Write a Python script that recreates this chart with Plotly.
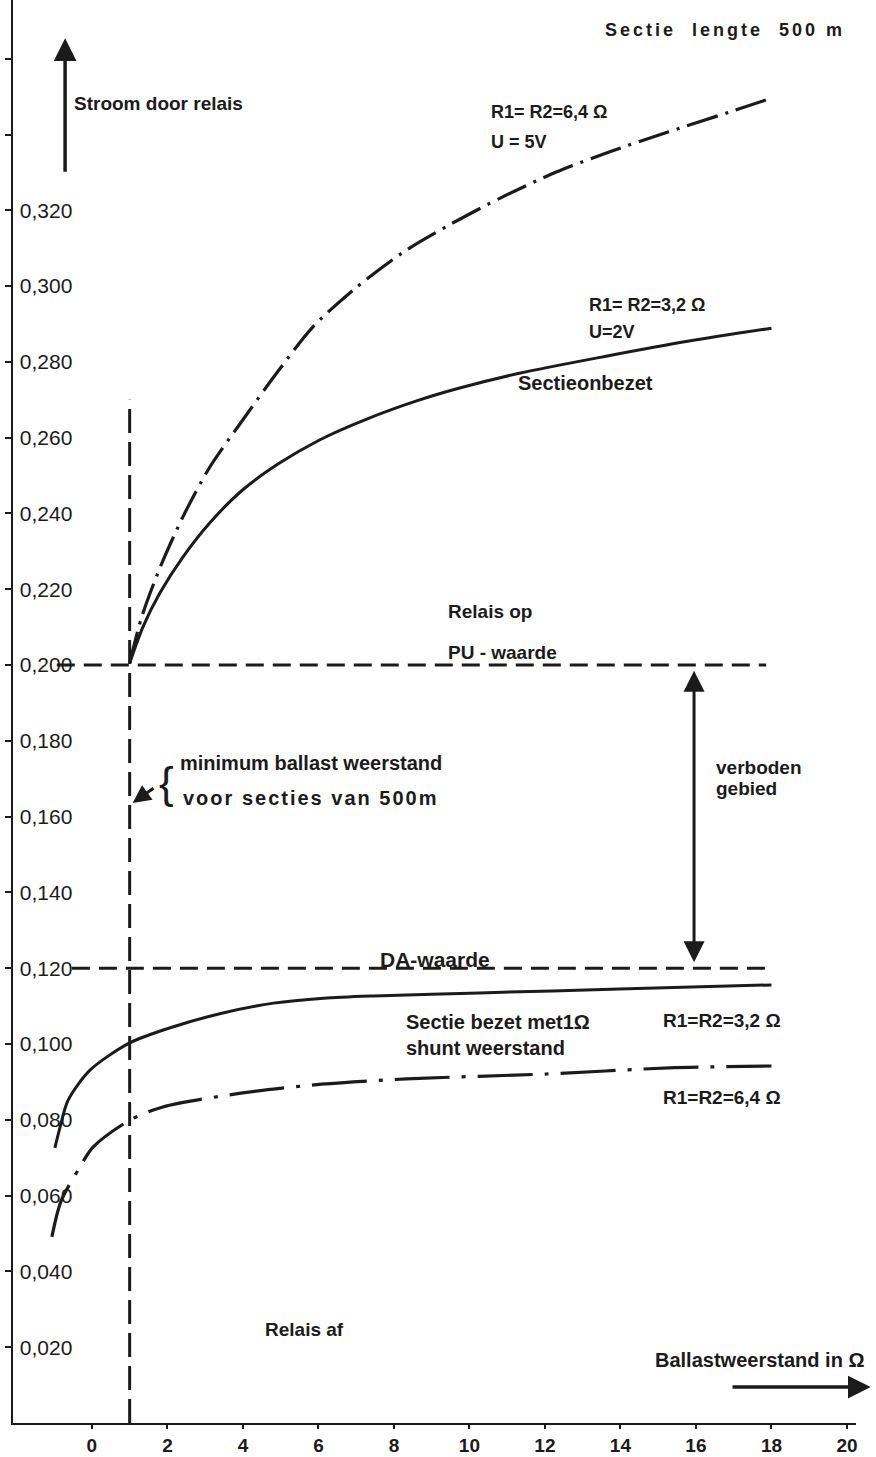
import plotly.graph_objects as go

# ---------------- data ----------------
x_ticks = [0, 2, 4, 6, 8, 10, 12, 14, 16, 18, 20]
x_tick_labels = ["0", "2", "4", "6", "8", "10", "12", "14", "16", "18", "20"]
y_ticks = [0.02, 0.04, 0.06, 0.08, 0.10, 0.12, 0.14, 0.16, 0.18, 0.20,
           0.22, 0.24, 0.26, 0.28, 0.30, 0.32, 0.34, 0.36]
y_tick_labels = ["0,020", "0,040", "0,060", "0,080", "0,100", "0,120", "0,140",
                 "0,160", "0,180", "0,200", "0,220", "0,240", "0,260", "0,280",
                 "0,300", "0,320", "", ""]

# Sectie onbezet, R1=R2=6,4 ohm, U=5V (dash-dot)
free_64_x = [1.0, 1.32, 1.80, 2.41, 3.12, 3.99, 4.89, 5.85, 7.01, 8.33, 9.55,
             10.87, 12.30, 13.70, 15.24, 16.88, 18.0]
free_64_y = [0.2005, 0.2127, 0.2256, 0.2391, 0.2522, 0.2646, 0.2770, 0.2892,
             0.2997, 0.3095, 0.3166, 0.3235, 0.3301, 0.3354, 0.3406, 0.3459, 0.3496]

# Sectie onbezet, R1=R2=3,2 ohm, U=2V (solid)
free_32_x = [1.0, 1.35, 1.80, 2.41, 3.12, 3.99, 4.97, 6.03, 7.28, 8.60, 9.74,
             11.32, 13.62, 15.82, 18.0]
free_32_y = [0.2005, 0.2100, 0.2190, 0.2285, 0.2375, 0.2462, 0.2533, 0.2594,
             0.2649, 0.2697, 0.2731, 0.2770, 0.2815, 0.2855, 0.2889]

# Sectie bezet met 1 ohm shunt, R1=R2=3,2 ohm (solid)
shunt_32_x = [-0.98, -0.85, -0.63, -0.05, 1.0, 2.14, 3.47, 4.81, 6.14, 7.46,
              10.26, 13.97, 18.0]
shunt_32_y = [0.0726, 0.0778, 0.0852, 0.0931, 0.1003, 0.1045, 0.1082, 0.1108,
              0.1121, 0.1127, 0.1135, 0.1145, 0.1156]

# Sectie bezet met 1 ohm shunt, R1=R2=6,4 ohm (dash-dot)
shunt_64_x = [-1.06, -0.82, -0.32, 0.03, 1.0, 1.88, 3.99, 6.08, 8.33, 12.04,
              15.29, 18.0]
shunt_64_y = [0.0491, 0.0585, 0.0675, 0.0728, 0.0799, 0.0834, 0.0871, 0.0894,
              0.0908, 0.0921, 0.0937, 0.0942]

pu_value = 0.200          # PU-waarde
da_value = 0.120          # DA-waarde
pu_x = [-0.93, 17.86]
da_x = [-0.53, 18.0]
min_ballast = 1.0         # minimum ballast weerstand
min_ballast_y = [0.0, 0.27]

ink = "#1b1b1b"
font_family = "Liberation Sans, Arial, sans-serif"

fig = go.Figure()

# curves
fig.add_trace(go.Scatter(x=free_64_x, y=free_64_y, mode="lines",
                         line=dict(color=ink, width=3.2, dash="32px,8px,3px,8px",
                                   shape="spline", smoothing=0.8)))
fig.add_trace(go.Scatter(x=free_32_x, y=free_32_y, mode="lines",
                         line=dict(color=ink, width=3, shape="spline", smoothing=0.8)))
fig.add_trace(go.Scatter(x=shunt_32_x, y=shunt_32_y, mode="lines",
                         line=dict(color=ink, width=3, shape="spline", smoothing=0.8)))
fig.add_trace(go.Scatter(x=shunt_64_x, y=shunt_64_y, mode="lines",
                         line=dict(color=ink, width=3.2, dash="55px,12px,4px,12px",
                                   shape="spline", smoothing=0.8)))

# reference lines
fig.add_trace(go.Scatter(x=pu_x, y=[pu_value, pu_value], mode="lines",
                         line=dict(color=ink, width=3, dash="18px,9px")))
fig.add_trace(go.Scatter(x=da_x, y=[da_value, da_value], mode="lines",
                         line=dict(color=ink, width=3, dash="18px,9px")))
fig.add_trace(go.Scatter(x=[min_ballast, min_ballast], y=min_ballast_y, mode="lines",
                         line=dict(color=ink, width=3, dash="24px,9px")))

annotations = []


def txt(text, x, y, size=19, anchor="left", bold=True):
    annotations.append(dict(
        text=text, x=x, y=y, xref="x", yref="y", showarrow=False,
        xanchor=anchor, yanchor="middle",
        font=dict(family=font_family, size=size, color=ink,
                  weight="bold" if bold else "normal")))


def arrow(x, y, ax, ay, width=3.5, size=1.2, both=False):
    d = dict(text="", x=x, y=y, ax=ax, ay=ay, xref="x", yref="y",
             axref="x", ayref="y", showarrow=True, arrowhead=2,
             arrowsize=size, arrowwidth=width, arrowcolor=ink)
    if both:
        d.update(arrowside="end+start", startarrowhead=2, startarrowsize=size)
    annotations.append(d)


txt('<span style="letter-spacing:3px">Sectie  lengte  500 m</span>', 13.55, 0.3675, size=18)
txt("Stroom door relais", -0.53, 0.3483, size=19)
txt("R1= R2=6,4 Ω", 10.53, 0.3459, size=18)
txt("U = 5V", 10.53, 0.3380, size=18)
txt("R1= R2=3,2 Ω", 13.12, 0.2950, size=18)
txt("U=2V", 13.12, 0.2879, size=18)
txt("Sectieonbezet", 11.24, 0.2744, size=20)
txt("Relais op", 9.37, 0.2142, size=19)
txt("PU - waarde", 9.37, 0.2034, size=19)
txt("{", 1.98, 0.1689, size=44, anchor="center", bold=False)
txt("minimum ballast weerstand", 2.28, 0.1741, size=20)
txt('<span style="letter-spacing:2px">voor secties van 500m</span>', 2.35, 0.1649, size=20)
txt("verboden", 16.48, 0.1731, size=19)
txt("gebied", 16.48, 0.1675, size=19)
txt("DA-waarde", 7.58, 0.1224, size=21)
txt("Sectie bezet met1Ω", 8.28, 0.1058, size=20)
txt("shunt weerstand", 8.28, 0.0989, size=20)
txt("R1=R2=3,2 Ω", 15.08, 0.1061, size=19)
txt("R1=R2=6,4 Ω", 15.08, 0.0858, size=19)
txt("Relais af", 4.52, 0.0248, size=19)
txt("Ballastweerstand in Ω", 14.87, 0.0166, size=20)

arrow(-0.71, 0.3654, -0.71, 0.3298, width=3.5, size=1.3)     # y-axis arrow
arrow(20.63, 0.0095, 16.93, 0.0095, width=3.5, size=1.3)     # x-axis arrow
arrow(15.95, 0.1985, 15.95, 0.1212, width=3, size=1.4, both=True)  # verboden gebied
arrow(1.08, 0.1636, 1.67, 0.1678, width=3, size=1.2)          # minimum ballast pointer

fig.update_layout(
    width=876, height=1457,
    margin=dict(l=13, r=20, t=0, b=34, autoexpand=False),
    paper_bgcolor="white", plot_bgcolor="white",
    showlegend=False,
    font=dict(family=font_family, color=ink),
    annotations=annotations,
)
fig.update_xaxes(
    range=[-2.09, 20.24], showgrid=False, zeroline=False,
    showline=True, linewidth=2, linecolor=ink,
    tickmode="array", tickvals=x_ticks, ticktext=x_tick_labels,
    ticks="outside", ticklen=4, tickwidth=2, tickcolor=ink,
    tickfont=dict(family=font_family, size=19, color=ink, weight="bold"),
    automargin=False,
)
fig.update_yaxes(
    range=[0, 0.3755], showgrid=False, zeroline=False,
    showline=True, linewidth=2, linecolor=ink,
    tickmode="array", tickvals=y_ticks, ticktext=y_tick_labels,
    ticks="outside", ticklen=6, tickwidth=2, tickcolor=ink,
    ticklabelposition="inside", ticklabelstandoff=8,
    tickfont=dict(family=font_family, size=21, color=ink),
    automargin=False,
)

fig.write_html(
    "out.html",
    config={"displayModeBar": False},
    post_script="document.body.style.margin='0';document.body.style.overflow='hidden';",
)
